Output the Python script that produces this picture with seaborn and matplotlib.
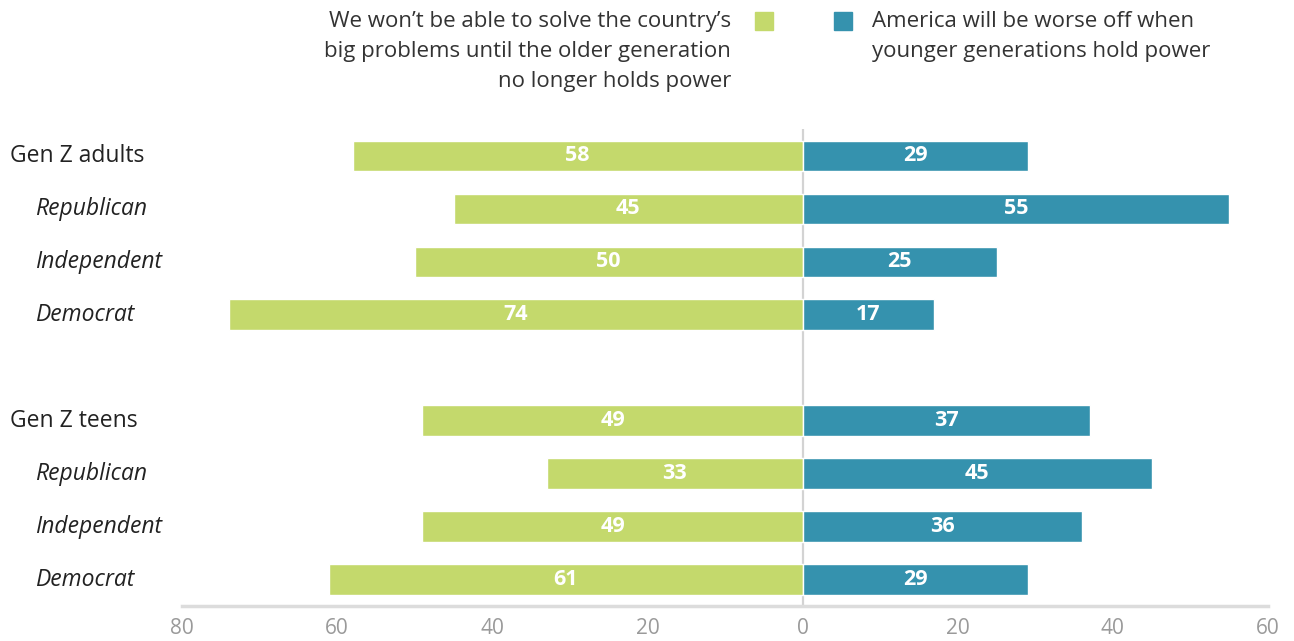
import matplotlib
matplotlib.use("Agg")
import matplotlib.pyplot as plt
import matplotlib.transforms as mtransforms
from matplotlib.patches import Rectangle
import seaborn as sns
import pandas as pd

# ---- data ----
row_keys = ["adults", "adults_rep", "adults_ind", "adults_dem", "gap",
            "teens", "teens_rep", "teens_ind", "teens_dem"]
row_labels = ["Gen Z adults", "Republican", "Independent", "Democrat", "",
              "Gen Z teens", "Republican", "Independent", "Democrat"]
row_italic = [False, True, True, True, False, False, True, True, True]
data_keys = ["adults", "adults_rep", "adults_ind", "adults_dem",
             "teens", "teens_rep", "teens_ind", "teens_dem"]
older_gen = [58, 45, 50, 74, 49, 33, 49, 61]
worse_off = [29, 55, 25, 17, 37, 45, 36, 29]
series_names = ["We won\u2019t be able to solve the country\u2019s\nbig problems until the older generation\nno longer holds power",
                "America will be worse off when\nyounger generations hold power"]
x_ticks = [-80, -60, -40, -20, 0, 20, 40, 60]
x_tick_labels = ["80", "60", "40", "20", "0", "20", "40", "60"]

GREEN = "#c4d96c"
BLUE = "#3592ae"

df = pd.DataFrame({
    "row": data_keys * 2,
    "value": [-v for v in older_gen] + worse_off,
    "series": ["older"] * len(older_gen) + ["worse"] * len(worse_off),
})

sns.set_theme(style="white")
plt.rcParams["font.family"] = ["Open Sans", "DejaVu Sans"]

fig = plt.figure(figsize=(12.94, 6.41), dpi=100)
ax = fig.add_axes([182 / 1294, 1 - 606 / 641, (1268 - 182) / 1294, (606 - 129.5) / 641])

sns.barplot(data=df, x="value", y="row", hue="series", order=row_keys,
            hue_order=["older", "worse"], palette=[GREEN, BLUE],
            orient="h", dodge=False, width=0.58, ax=ax, legend=False,
            saturation=1)

for cont, vals in zip(ax.containers, [older_gen, worse_off]):
    ax.bar_label(cont, labels=[str(v) for v in vals], label_type="center",
                 color="white", fontsize=15.5, fontweight="bold")

ax.axvline(0, color="#d3d3d3", lw=1.6, zorder=0)
ax.set_xlim(-80, 60)
ax.set_ylim(8.5, -0.5)
ax.set_xticks(x_ticks)
ax.set_xticklabels(x_tick_labels)
ax.tick_params(axis="x", length=0, pad=9, labelsize=15, labelcolor="#9a9a9a")
ax.set_yticks([])
ax.set_xlabel("")
ax.set_ylabel("")
for s in ["top", "right", "left"]:
    ax.spines[s].set_visible(False)
ax.spines["bottom"].set_color("#dcdcdc")
ax.spines["bottom"].set_linewidth(2.5)

trans = mtransforms.blended_transform_factory(fig.transFigure, ax.transData)
for i, (lab, it) in enumerate(zip(row_labels, row_italic)):
    if not lab:
        continue
    x = (35 if it else 10) / 1294
    ax.text(x, i, lab, transform=trans, ha="left", va="center", fontsize=16.5,
            style="italic" if it else "normal", color="#222222")

# legend
fig.patches.append(Rectangle((755 / 1294, 1 - 30 / 641), 18 / 1294, 18 / 641,
                             transform=fig.transFigure, color=GREEN))
fig.patches.append(Rectangle((834 / 1294, 1 - 30 / 641), 18 / 1294, 18 / 641,
                             transform=fig.transFigure, color=BLUE))
fig.text(731 / 1294, 1 - 11 / 641, series_names[0], ha="right", va="top",
         fontsize=16, linespacing=1.55, color="#333333")
fig.text(872 / 1294, 1 - 11 / 641, series_names[1], ha="left", va="top",
         fontsize=16, linespacing=1.55, color="#333333")

fig.savefig("out.png", dpi=100)
